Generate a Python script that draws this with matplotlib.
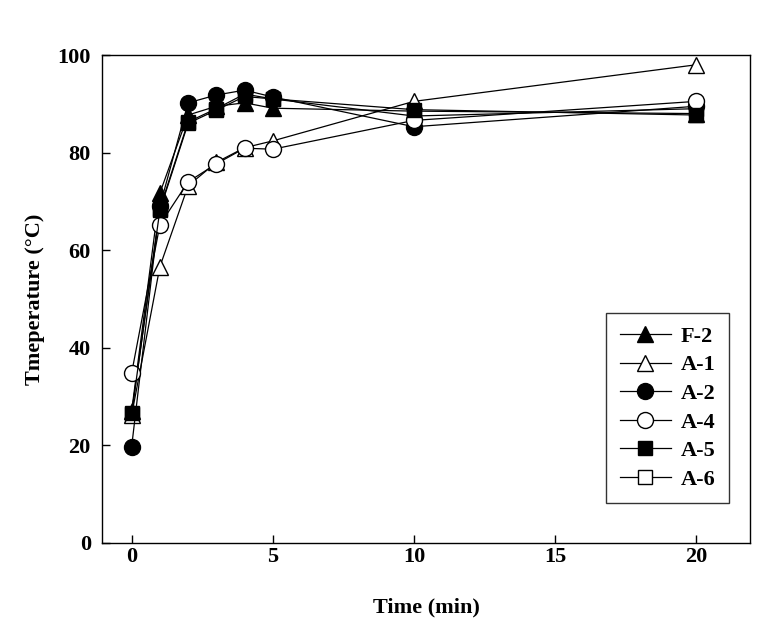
import matplotlib
matplotlib.use("Agg")
import matplotlib.pyplot as plt

time = [0, 1, 2, 3, 4, 5, 10, 20]
f2 = [27, 71.7, 87.7, 89.5, 90.2, 89.1, 88.5, 88]
a1 = [26.2, 56.6, 73.2, 78, 81, 82.4, 90.5, 98]
a2 = [19.7, 69, 90.2, 91.8, 92.8, 91.4, 85.3, 89.5]
a4 = [34.8, 65.2, 74, 77.7, 80.9, 80.7, 86.6, 90.5]
a5 = [26.6, 68.2, 86, 88.7, 91.5, 91, 88.8, 87.7]
a6 = [26.5, 68.5, 86.3, 89, 92, 91, 87.5, 89]
labels = ["F-2", "A-1", "A-2", "A-4", "A-5", "A-6"]

plt.rcParams['font.family'] = ['Liberation Serif', 'DejaVu Serif']
plt.rcParams['font.weight'] = 'bold'

fig = plt.figure(figsize=(7.72, 6.33), dpi=100)
ax = fig.add_axes([0.1321, 0.1422, 0.8394, 0.7709])

series = [f2, a1, a2, a4, a5, a6]
markers = ['^', '^', 'o', 'o', 's', 's']
sizes = [11.5, 11.5, 11.5, 11.5, 10.5, 10.5]
fills = ['black', 'white', 'black', 'white', 'black', 'white']
zorders = [3, 3.5, 4, 4.5, 5, 2]
handles = []
for vals, m, ms, fc, z, lab in zip(series, markers, sizes, fills, zorders, labels):
    h, = ax.plot(time, vals, color='black', linewidth=0.9, marker=m, markersize=ms,
                 markerfacecolor=fc, markeredgecolor='black', markeredgewidth=1.0,
                 label=lab, zorder=z)
    handles.append(h)

ax.set_xlim(-1.05, 21.9)
ax.set_ylim(0, 100)
ax.set_xticks([0, 5, 10, 15, 20])
ax.set_yticks([0, 20, 40, 60, 80, 100])
ax.tick_params(direction='in', length=6, width=1, labelsize=16)
ax.tick_params(axis='x', pad=3)
ax.tick_params(axis='y', pad=8)
for t in ax.get_xticklabels() + ax.get_yticklabels():
    t.set_fontweight('bold')
for s in ax.spines.values():
    s.set_linewidth(1.0)

ax.set_xlabel("Time (min)", fontsize=16, fontweight='bold', labelpad=22)
ax.set_ylabel("Tmeperature (°C)", fontsize=16, fontweight='bold', labelpad=9)

leg = ax.legend(handles=handles, labels=labels, loc='lower right',
                bbox_to_anchor=(0.9676, 0.082), borderaxespad=0,
                frameon=True, fancybox=False, edgecolor='black', fontsize=16,
                handlelength=2.3, labelspacing=0.36, borderpad=0.6, handletextpad=0.45)
leg.get_frame().set_linewidth(1.0)
for t in leg.get_texts():
    t.set_fontweight('bold')

fig.savefig("out.png", dpi=100)
